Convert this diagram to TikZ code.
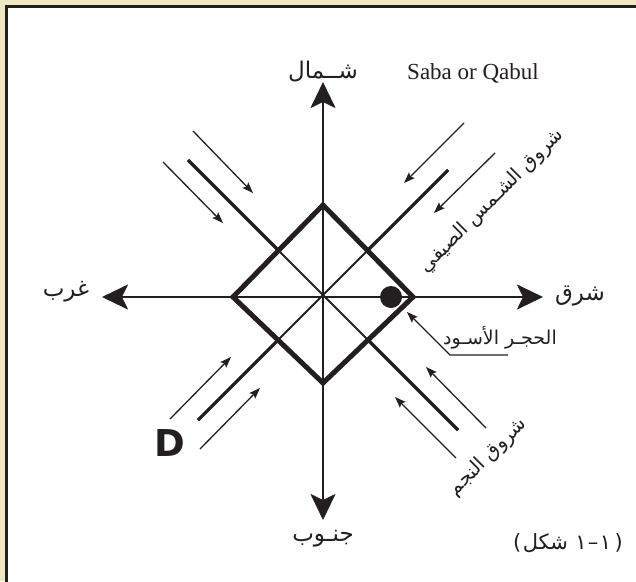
\documentclass[tikz,border=0pt]{standalone}
\usepackage{fontspec}
\setmainfont{Liberation Serif}
\newfontfamily\arabicfont[Script=Arabic]{DejaVu Sans}
\newfontfamily\dfont{DejaVu Sans}
\TeXXeTstate=1
\usetikzlibrary{arrows.meta}
\definecolor{bgbeige}{RGB}{237,231,194}
\definecolor{ink}{RGB}{35,31,32}
\begin{document}
\begin{tikzpicture}[x=1pt,y=-1pt,
  axis/.style={draw=ink,line width=2.6pt,-{Stealth[length=26pt,width=25pt,inset=6pt]}},
  ray/.style={draw=ink,line width=1.3pt,-{Stealth[length=11pt,width=8pt,inset=2pt]}},
  diagin/.style={draw=ink,line width=2pt},
  diagout/.style={draw=ink,line width=3.2pt},
  diamondline/.style={draw=ink,line width=5pt,line join=miter},
  arlabel/.style={font=\arabicfont\fontsize{23}{26}\selectfont,text=ink,inner sep=0pt},
  rotlabel/.style={font=\arabicfont\fontsize{19.5}{22}\selectfont,text=ink,inner sep=0pt,rotate=45},
  figpart/.style={font=\arabicfont\fontsize{21}{24}\selectfont,text=ink,inner sep=0pt,anchor=base west},
  ptr/.style={draw=ink,line width=1.2pt}]
\useasboundingbox (0,0) rectangle (636,581);
\fill[bgbeige] (0,0) rectangle (636,581);
\draw[line width=2.6pt,draw=ink,fill=white] (6.5,6.5) rectangle (660,610);
% centre and axes
\coordinate (c) at (323,297);
\coordinate (tN) at (323,82);
\coordinate (tS) at (323,520);
\coordinate (tE) at (543,297);
\coordinate (tW) at (102,297);
\draw[axis] (c) -- (tN);
\draw[axis] (c) -- (tS);
\draw[axis] (c) -- (tE);
\draw[axis] (c) -- (tW);
% diagonals
\coordinate (dNW) at (188,160);
\coordinate (dSE) at (458,430);
\coordinate (dNE) at (448,170);
\coordinate (dSW) at (198,420);
\coordinate (iNW) at (279,251);
\coordinate (iSE) at (368,340);
\coordinate (iNE) at (367.5,250.5);
\coordinate (iSW) at (278,340);
\draw[diagin] (dNW) -- (dSE);
\draw[diagin] (dNE) -- (dSW);
\draw[diagout] (dNW) -- (iNW);
\draw[diagout] (dSE) -- (iSE);
\draw[diagout] (dNE) -- (iNE);
\draw[diagout] (dSW) -- (iSW);
% diamond
\coordinate (qN) at (323,205);
\coordinate (qE) at (413,297);
\coordinate (qS) at (323,383);
\coordinate (qW) at (233,297);
\draw[diamondline] (qN) -- (qE) -- (qS) -- (qW) -- cycle;
% black stone
\fill[ink] (391,297) circle (11);
% small arrows
\coordinate (a1s) at (193,131); \coordinate (a1e) at (253,193);
\coordinate (a2s) at (163,162); \coordinate (a2e) at (223,223);
\coordinate (a3s) at (464,123); \coordinate (a3e) at (404,183);
\coordinate (a4s) at (495,153); \coordinate (a4e) at (434,213);
\coordinate (a5s) at (170,419); \coordinate (a5e) at (231,357);
\coordinate (a6s) at (200,449); \coordinate (a6e) at (260,388);
\coordinate (a7s) at (456,458); \coordinate (a7e) at (395,397);
\coordinate (a8s) at (486,428); \coordinate (a8e) at (426,367);
\draw[ray] (a1s) -- (a1e);
\draw[ray] (a2s) -- (a2e);
\draw[ray] (a3s) -- (a3e);
\draw[ray] (a4s) -- (a4e);
\draw[ray] (a5s) -- (a5e);
\draw[ray] (a6s) -- (a6e);
\draw[ray] (a7s) -- (a7e);
\draw[ray] (a8s) -- (a8e);
% pointer to black stone
\coordinate (pT) at (407,312);
\coordinate (pK) at (450,355);
\coordinate (pE) at (508,355);
\draw[ptr,{Stealth[length=11pt,width=8pt,inset=2pt]}-] (pT) -- (pK) -- (pE);
% labels
\node[arlabel] (lN) at (323,72) {\beginR شــمال\endR};
\node[arlabel] (lS) at (323,539) {\beginR جنـوب\endR};
\node[arlabel] (lE) at (580,296) {\beginR شرق\endR};
\node[arlabel] (lW) at (66,292) {\beginR غرب\endR};
\node[text=ink,inner sep=0pt,font=\fontsize{23}{26}\selectfont] (saba) at (473,73) {Saba or Qabul};
\node[arlabel,font=\arabicfont\fontsize{19}{22}\selectfont] (stone) at (500,338) {\beginR الحجـر الأسـود\endR};
\node[rotlabel] (sun) at (492,201) {\beginR شروق الشـمس الصيفي\endR};
\node[rotlabel] (star) at (488,457) {\beginR شروق النجم\endR};
\node[text=ink,inner sep=0pt,font=\dfont\bfseries\fontsize{37}{40}\selectfont] (D) at (170,443) {D};
% figure caption, built piece by piece from left to right
\node[figpart,font=\dfont\fontsize{21}{24}\selectfont] (fpl) at (513,549) {(};
\node[figpart] (fw) at ([xshift=1pt]fpl.base east) {\beginR شكل\endR};
\node[figpart] (fd1) at ([xshift=7pt]fw.base east) {١};
\node[figpart,font=\dfont\fontsize{21}{24}\selectfont] (fdash) at ([xshift=1pt]fd1.base east) {–};
\node[figpart] (fd2) at ([xshift=1pt]fdash.base east) {١};
\node[figpart,font=\dfont\fontsize{21}{24}\selectfont] (fpr) at ([xshift=3pt]fd2.base east) {)};
\end{tikzpicture}
\end{document}
